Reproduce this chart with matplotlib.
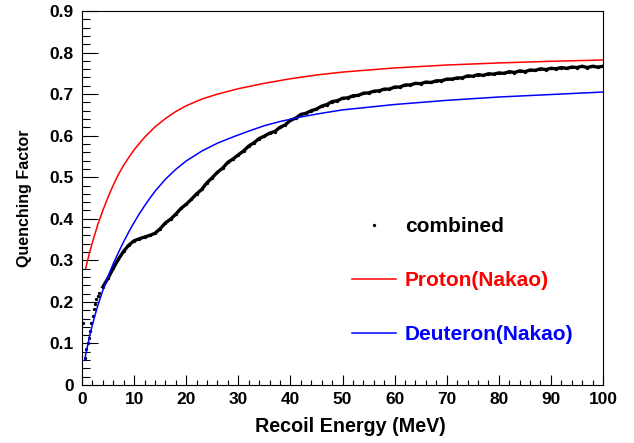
import numpy as np
import matplotlib
matplotlib.use("Agg")
import matplotlib.pyplot as plt
from matplotlib.ticker import MultipleLocator

plt.rcParams['font.family'] = ['Liberation Sans', 'DejaVu Sans']
plt.rcParams['font.weight'] = 'bold'

# combined measurement: sparse points at low energy, then 1 MeV steps
low_energy = [0.15, 0.55, 0.85, 1.1, 1.3, 1.55, 1.8, 2.05, 2.3, 2.5, 2.75, 3.0, 3.3]
low_qf = [0.148, 0.064, 0.086, 0.100, 0.114, 0.130, 0.150, 0.166, 0.182, 0.194, 0.206, 0.214, 0.222]

comb_energy = list(range(4, 101))
comb_qf = [0.236, 0.257, 0.281, 0.303, 0.322, 0.337, 0.347, 0.352, 0.356, 0.360,
           0.365, 0.376, 0.390, 0.399, 0.411, 0.425, 0.435, 0.447, 0.460, 0.471,
           0.487, 0.499, 0.512, 0.522, 0.536, 0.544, 0.554, 0.563, 0.575, 0.583,
           0.593, 0.599, 0.606, 0.610, 0.620, 0.626, 0.637, 0.642, 0.651, 0.654,
           0.660, 0.664, 0.671, 0.675, 0.682, 0.684, 0.690, 0.691, 0.696, 0.697,
           0.702, 0.703, 0.707, 0.708, 0.712, 0.712, 0.717, 0.717, 0.722, 0.722,
           0.726, 0.725, 0.729, 0.728, 0.732, 0.732, 0.736, 0.736, 0.739, 0.739,
           0.744, 0.743, 0.747, 0.745, 0.749, 0.748, 0.751, 0.750, 0.754, 0.752,
           0.756, 0.754, 0.758, 0.757, 0.761, 0.759, 0.762, 0.761, 0.764, 0.762,
           0.765, 0.764, 0.767, 0.764, 0.767, 0.765, 0.767]

# Nakao parameterisations
proton_energy = [0.7, 1, 1.5, 2, 2.5, 3, 4, 5, 6, 7, 8, 9, 10, 12, 14, 16, 18, 20,
                 23, 26, 30, 35, 40, 45, 50, 60, 70, 80, 90, 100]
proton_qf = [0.280, 0.296, 0.321, 0.343, 0.364, 0.385, 0.420, 0.452, 0.481, 0.507,
             0.529, 0.548, 0.566, 0.596, 0.621, 0.641, 0.658, 0.672, 0.688, 0.700,
             0.713, 0.726, 0.737, 0.746, 0.753, 0.763, 0.770, 0.775, 0.779, 0.782]

deuteron_energy = [0.5, 1, 1.5, 2, 2.5, 3, 4, 5, 6, 7, 8, 9, 10, 11, 12, 13, 14, 16,
                   18, 20, 23, 26, 29, 32, 35, 38, 42, 46, 50, 60, 70, 80, 90, 100]
deuteron_qf = [0.060, 0.090, 0.120, 0.145, 0.168, 0.190, 0.228, 0.261, 0.292, 0.319,
               0.345, 0.369, 0.391, 0.412, 0.431, 0.449, 0.466, 0.495, 0.519, 0.539,
               0.563, 0.582, 0.597, 0.611, 0.624, 0.634, 0.645, 0.654, 0.662, 0.675,
               0.685, 0.693, 0.699, 0.705]

fig = plt.figure(figsize=(6.34, 4.43), dpi=100)
ax = fig.add_axes([82 / 634, 58 / 443, 521 / 634, 374 / 443])

all_e = low_energy + comb_energy
all_q = low_qf + comb_qf
ax.plot(comb_energy, comb_qf, '-', color='black', lw=2.4, label='_nolegend_')
ax.plot(all_e, all_q, 'o', color='black', ms=2.4, mew=0, label='combined')
ax.plot(proton_energy, proton_qf, '-', color='#ff0000', lw=1.1, label='Proton(Nakao)')
ax.plot(deuteron_energy, deuteron_qf, '-', color='#0000ff', lw=1.1, label='Deuteron(Nakao)')

ax.set_xlim(0, 100)
ax.set_ylim(0, 0.9)
ax.xaxis.set_major_locator(MultipleLocator(10))
ax.xaxis.set_minor_locator(MultipleLocator(2))
ax.yaxis.set_major_locator(MultipleLocator(0.1))
ax.yaxis.set_minor_locator(MultipleLocator(0.02))
ax.yaxis.set_major_formatter(plt.FuncFormatter(lambda v, p: '0' if abs(v) < 1e-9 else f'{v:.1f}'))

ax.tick_params(axis='both', which='both', direction='in', width=0.8, labelsize=12.5)
ax.tick_params(axis='y', which='major', length=11.5, pad=6)
ax.tick_params(axis='y', which='minor', length=5.5)
ax.tick_params(axis='x', which='major', length=7.2, pad=5)
ax.tick_params(axis='x', which='minor', length=3.6)
for s in ax.spines.values():
    s.set_linewidth(0.8)

ax.set_xlabel('Recoil Energy (MeV)', fontsize=14.2, fontweight='bold')
ax.set_ylabel('Quenching Factor', fontsize=11.5, fontweight='bold')
ax.xaxis.set_label_coords(0.515, -0.086)
ax.yaxis.set_label_coords(-0.096, 0.5)

leg = ax.legend(loc='upper left', bbox_to_anchor=(0.518, 0.449), frameon=False,
                fontsize=15, handlelength=2.1, handletextpad=0.45, labelspacing=1.68,
                borderpad=0, borderaxespad=0, numpoints=1, labelcolor='linecolor',
                markerscale=1.0)
for t in leg.get_texts():
    t.set_fontweight('bold')

fig.savefig('out.png', dpi=100)
